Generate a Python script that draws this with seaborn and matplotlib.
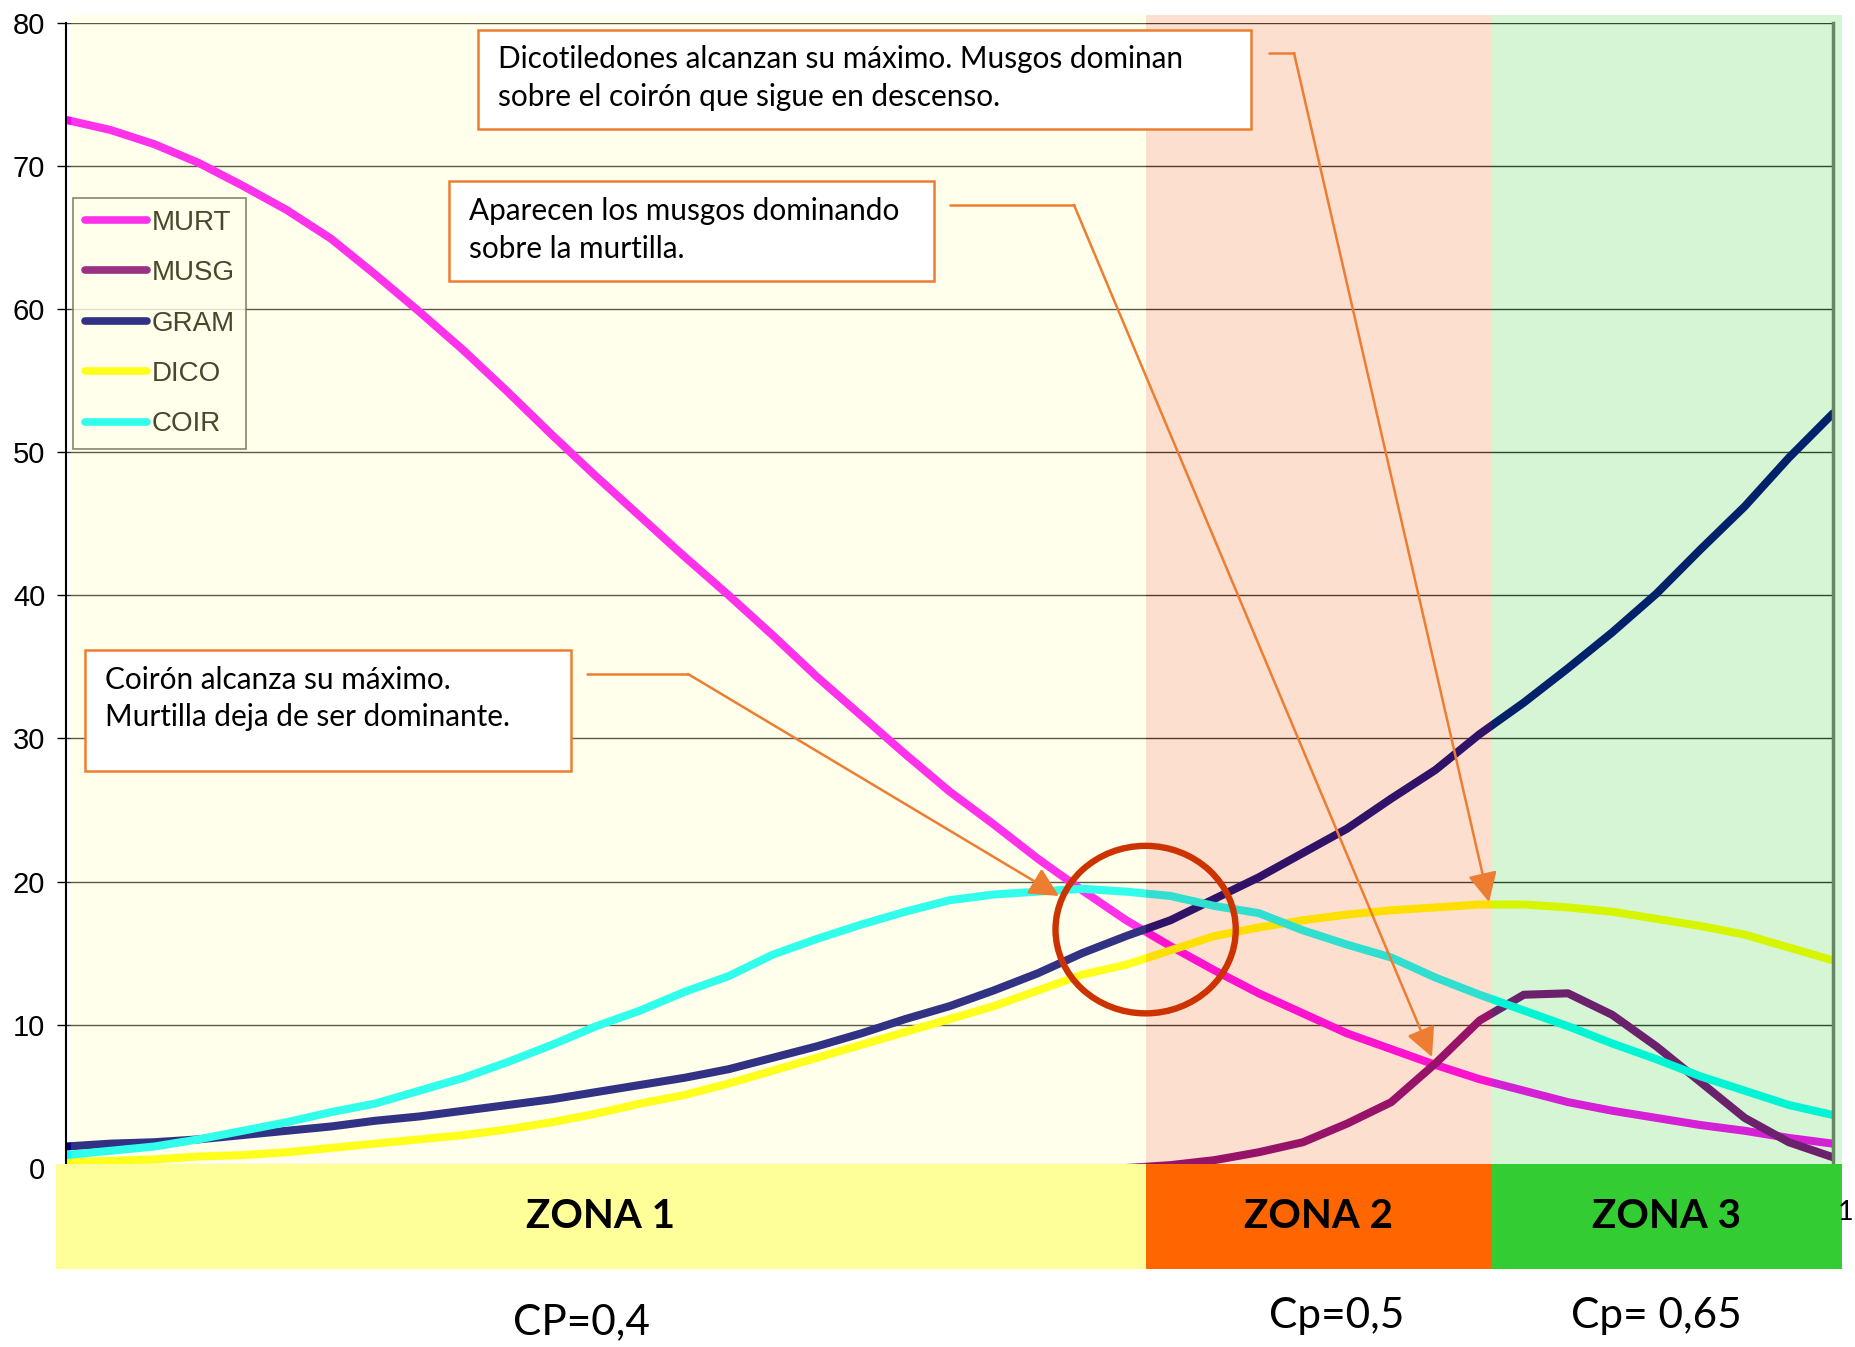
import numpy as np
import pandas as pd
import matplotlib
matplotlib.use("Agg")
import matplotlib.pyplot as plt
import matplotlib.transforms as mtransforms
from matplotlib.patches import Rectangle, Ellipse
from matplotlib.lines import Line2D
import seaborn as sns

sns.set_style("white")
plt.rcParams['font.family'] = ['Liberation Sans', 'DejaVu Sans']
plt.rcParams['axes.unicode_minus'] = False
plt.rcParams['text.color'] = 'black'

W, H = 1856, 1347

# posicion a lo largo del gradiente (0-100)
posicion = [0, 2.5, 5, 7.5, 10, 12.5, 15, 17.5, 20, 22.5, 25, 27.5, 30, 32.5, 35, 37.5,
            40, 42.5, 45, 47.5, 50, 52.5, 55, 57.5, 60, 62.5, 65, 67.5, 70, 72.5, 75, 77.5,
            80, 82.5, 85, 87.5, 90, 92.5, 95, 97.5, 100]

murt = [73.2, 72.5, 71.5, 70.2, 68.6, 66.9, 64.9, 62.4, 59.8, 57.1, 54.2, 51.2, 48.3, 45.5,
        42.7, 40.0, 37.2, 34.3, 31.6, 28.9, 26.3, 24.0, 21.6, 19.4, 17.3, 15.5, 13.8, 12.2,
        10.8, 9.4, 8.3, 7.2, 6.2, 5.4, 4.6, 4.0, 3.5, 3.0, 2.6, 2.1, 1.7]
musg = [0, 0, 0, 0, 0, 0, 0, 0, 0, 0, 0, 0, 0, 0, 0, 0, 0, 0, 0, 0, 0, 0, 0, 0, 0,
        0.2, 0.55, 1.1, 1.8, 3.1, 4.6, 7.3, 10.3, 12.1, 12.2, 10.7, 8.5, 6.0, 3.5, 1.8, 0.75]
gram = [1.5, 1.7, 1.8, 2.0, 2.3, 2.6, 2.9, 3.3, 3.6, 4.0, 4.4, 4.8, 5.3, 5.8, 6.3, 6.9,
        7.7, 8.5, 9.4, 10.4, 11.3, 12.4, 13.6, 15.0, 16.2, 17.3, 18.8, 20.3, 22.0, 23.7,
        25.8, 27.8, 30.3, 32.5, 34.9, 37.4, 40.1, 43.2, 46.2, 49.6, 52.7]
dico = [0.4, 0.5, 0.6, 0.8, 0.9, 1.1, 1.4, 1.7, 2.0, 2.3, 2.7, 3.2, 3.8, 4.5, 5.1, 5.9,
        6.8, 7.7, 8.6, 9.5, 10.4, 11.3, 12.4, 13.5, 14.2, 15.2, 16.2, 16.8, 17.3, 17.7,
        18.0, 18.2, 18.4, 18.4, 18.2, 17.9, 17.4, 16.9, 16.3, 15.4, 14.5]
coir = [0.9, 1.2, 1.5, 2.0, 2.6, 3.2, 3.9, 4.5, 5.4, 6.3, 7.4, 8.6, 9.9, 11.0, 12.3, 13.4,
        14.9, 16.0, 17.0, 17.9, 18.7, 19.1, 19.3, 19.5, 19.3, 19.0, 18.3, 17.8, 16.6, 15.6,
        14.7, 13.3, 12.1, 11.0, 9.9, 8.7, 7.6, 6.4, 5.4, 4.4, 3.7]

series = ["MURT", "MUSG", "GRAM", "DICO", "COIR"]
colores = ["#FF00FF", "#800080", "#000080", "#FFFF00", "#00FFFF"]

zonas = ["ZONA 1", "ZONA 2", "ZONA 3"]
limites_zona = [0, 61.1, 80.7, 100]
cp_textos = ["CP=0,4", "Cp=0,5", "Cp= 0,65"]
cp_pos = [29.2, 71.9, 90.0]

df = pd.DataFrame({"posicion": posicion, "MURT": murt, "MUSG": musg,
                   "GRAM": gram, "DICO": dico, "COIR": coir})
df_long = df.melt(id_vars="posicion", var_name="serie", value_name="cobertura")

fig = plt.figure(figsize=(W / 100, H / 100), dpi=100)
ax = fig.add_axes([66 / W, 1 - 1168 / H, 1767 / W, 1145.5 / H])

sns.lineplot(data=df_long, x="posicion", y="cobertura", hue="serie", hue_order=series,
             palette=colores, linewidth=5.8, legend=False, ax=ax, zorder=2)

ax.set_xlim(0, 100)
ax.set_ylim(0, 80)
ax.set_yticks(range(0, 81, 10))
ax.set_xticks([])
ax.set_xlabel("")
ax.set_ylabel("")
ax.tick_params(axis="y", labelsize=21, length=6.5, width=1, direction="out", pad=8.5,
               left=True, colors="black")
ax.set_axisbelow(True)
ax.yaxis.grid(True, color="#333333", linewidth=1.0)
ax.set_facecolor("white")
for s in ["top", "bottom"]:
    ax.spines[s].set_visible(False)
ax.spines["left"].set_color("black")
ax.spines["left"].set_linewidth(1.5)
ax.spines["right"].set_color("#7a7a7a")
ax.spines["right"].set_linewidth(2.5)

# leyenda
handles = [Line2D([0], [0], color=c, lw=5.5) for c in colores]
leg = ax.legend(handles, series, loc="upper left", bbox_to_anchor=(0.004, 0.8468),
                borderaxespad=0, frameon=True, fancybox=False, fontsize=20,
                handlelength=2.25, handletextpad=0.15, labelspacing=0.88, borderpad=0.42)
leg.get_frame().set_edgecolor("#444433")
leg.get_frame().set_linewidth(1.2)
leg.get_frame().set_facecolor("white")
for t in leg.get_texts():
    t.set_color("#1a1a10")
leg.set_zorder(2.5)

# velos de color de cada zona (sobre las curvas)
blend = mtransforms.blended_transform_factory(ax.transData, ax.transAxes)
velos = [("#FFFF9B", 0.20), ("#F55F0F", 0.20), ("#08C408", 0.17)]
ext_izq = [0.3, limites_zona[1], limites_zona[2]]
ext_der = [limites_zona[1], limites_zona[2], 100.5]
for (col, a), x0, x1 in zip(velos, ext_izq, ext_der):
    ax.add_patch(Rectangle((x0, 0.0035), x1 - x0, 1.0031, transform=blend,
                           facecolor=col, alpha=a, lw=0, zorder=3, clip_on=False))

# barras de zonas
barras = ["#FFFF99", "#FF6600", "#33CC33"]
bar_izq = [-0.57, limites_zona[1], limites_zona[2]]
for col, x0, x1, nombre in zip(barras, bar_izq, ext_der, zonas):
    ax.add_patch(Rectangle((x0, -0.0882), x1 - x0, 0.0917, transform=blend,
                           facecolor=col, lw=0, zorder=7, clip_on=False))
    ax.text((x0 + x1) / 2, -0.0424, nombre, transform=blend, ha="center", va="center",
            fontsize=29, fontweight="bold", family="Lato", color="black", zorder=8)

fig.text(1853 / W, 1 - 1212 / H, "1", ha="right", va="center", fontsize=19.5,
         family="Lato", color="black", zorder=8)

for txt, xp, yp in zip(cp_textos, cp_pos, [-0.135, -0.129, -0.129]):
    ax.text(xp, yp, txt, transform=blend, ha="center", va="center", fontsize=30.5,
            family="Lato", color="black", zorder=8)

# circulo de la interseccion
ax.add_patch(Ellipse((limites_zona[1], 16.65), 10.2, 11.7, fill=False,
                     edgecolor="#CC3300", lw=4.6, zorder=6, clip_on=False))

# cuadros de texto con flechas
def fpx(x, y):
    return x / W, 1 - y / H

naranja = "#ED7D31"
cuadros = [
    ((478, 30, 1251, 129), 498, [59, 97],
     ["Dicotiledones alcanzan su máximo. Musgos dominan",
      "sobre el coirón que sigue en descenso."]),
    ((449, 181, 934, 281), 469, [211, 249],
     ["Aparecen los musgos dominando", "sobre la murtilla."]),
    ((85, 650, 571, 771), 105, [680, 717],
     ["Coirón alcanza su máximo.", "Murtilla deja de ser dominante."]),
]
for (x0, y0, x1, y1), tx, tys, lineas in cuadros:
    fig.add_artist(Rectangle(fpx(x0, y1), (x1 - x0) / W, (y1 - y0) / H,
                             transform=fig.transFigure, facecolor="white",
                             edgecolor=naranja, lw=1.8, zorder=5))
    for ty, linea in zip(tys, lineas):
        fig.text(tx / W, 1 - ty / H, linea, ha="left", va="center", fontsize=21.4,
                 family="Lato", color="black", zorder=6)

flechas = [((1269, 53), (1294, 53), (1489, 902)),
           ((950, 205), (1074, 205), (1432, 1057)),
           ((587, 674), (688, 674), (1059, 896))]
for p0, p1, tip in flechas:
    a, b = fpx(*p0), fpx(*p1)
    fig.add_artist(Line2D([a[0], b[0]], [a[1], b[1]], transform=fig.transFigure,
                          color=naranja, lw=1.8, zorder=5))
    ax.annotate("", xy=fpx(*tip), xycoords="figure fraction", xytext=b,
                textcoords="figure fraction", annotation_clip=False, zorder=6,
                arrowprops=dict(arrowstyle="-|>,head_length=1.8,head_width=0.9",
                                color=naranja, lw=1.8, shrinkA=0, shrinkB=0))

fig.savefig("out.png", dpi=100)
